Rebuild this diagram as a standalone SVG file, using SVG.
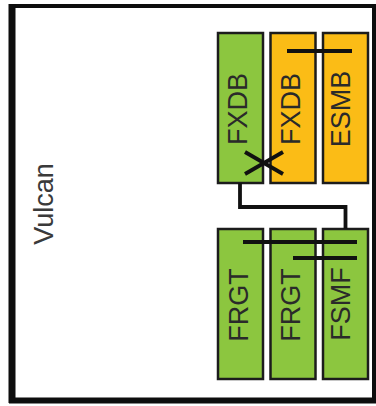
<svg xmlns="http://www.w3.org/2000/svg" width="376" height="406" viewBox="0 0 376 406">
  <style>
    .blk { stroke: #1c1c1c; stroke-width: 2.5; }
    .green { fill: #8cc63f; }
    .orange { fill: #fbbc16; }
    .lbl { font-family: "Liberation Sans", Arial, sans-serif; font-size: 27px; fill: #2a2a2a; text-anchor: middle; }
    .wire { fill: none; stroke: #111; stroke-width: 3.8; stroke-linecap: butt; }
  </style>
  <rect width="376" height="406" fill="#ffffff"/>

  <!-- outer frame -->
  <g id="frame" fill="none" stroke="#0d0d0d">
    <line x1="9" y1="6" x2="376" y2="6" stroke-width="4"/>
    <line x1="12" y1="4" x2="12" y2="403" stroke-width="7"/>
    <line x1="9" y1="400.5" x2="376" y2="400.5" stroke-width="6"/>
    <line x1="374" y1="4" x2="374" y2="403" stroke-width="4"/>
  </g>

  <g id="vulcan">
    <text class="lbl" transform="translate(53,204) rotate(-90)" style="fill:#3a3a3a">Vulcan</text>
  </g>

  <!-- upper row -->
  <g id="fxdb-green">
    <rect class="blk green" x="218" y="33" width="45" height="150"/>
    <text class="lbl" transform="translate(247,109) rotate(-90)">FXDB</text>
  </g>
  <g id="fxdb-orange">
    <rect class="blk orange" x="270.5" y="33" width="45" height="150"/>
    <text class="lbl" transform="translate(299.5,109) rotate(-90)">FXDB</text>
  </g>
  <g id="esmb">
    <rect class="blk orange" x="323" y="33" width="45" height="150"/>
    <text class="lbl" transform="translate(350,109) rotate(-90)">ESMB</text>
  </g>

  <!-- lower row -->
  <g id="frgt-1">
    <rect class="blk green" x="218" y="229" width="45" height="150"/>
    <text class="lbl" transform="translate(248,305) rotate(-90)">FRGT</text>
  </g>
  <g id="frgt-2">
    <rect class="blk green" x="270.5" y="229" width="45" height="150"/>
    <text class="lbl" transform="translate(300,305) rotate(-90)">FRGT</text>
  </g>
  <g id="fsmf">
    <rect class="blk green" x="323" y="229" width="45" height="150"/>
    <text class="lbl" transform="translate(350,304) rotate(-90)">FSMF</text>
  </g>

  <!-- connectors -->
  <g id="connectors">
    <line class="wire" x1="245" y1="152" x2="283" y2="174"/>
    <line class="wire" x1="245" y1="174" x2="283" y2="152"/>
    <polyline class="wire" points="240,183 240,207 345.5,207 345.5,229"/>
    <line class="wire" x1="287" y1="51" x2="352" y2="51"/>
    <line class="wire" x1="243" y1="242" x2="357" y2="242"/>
    <line class="wire" x1="293" y1="258" x2="357" y2="258"/>
  </g>
</svg>
